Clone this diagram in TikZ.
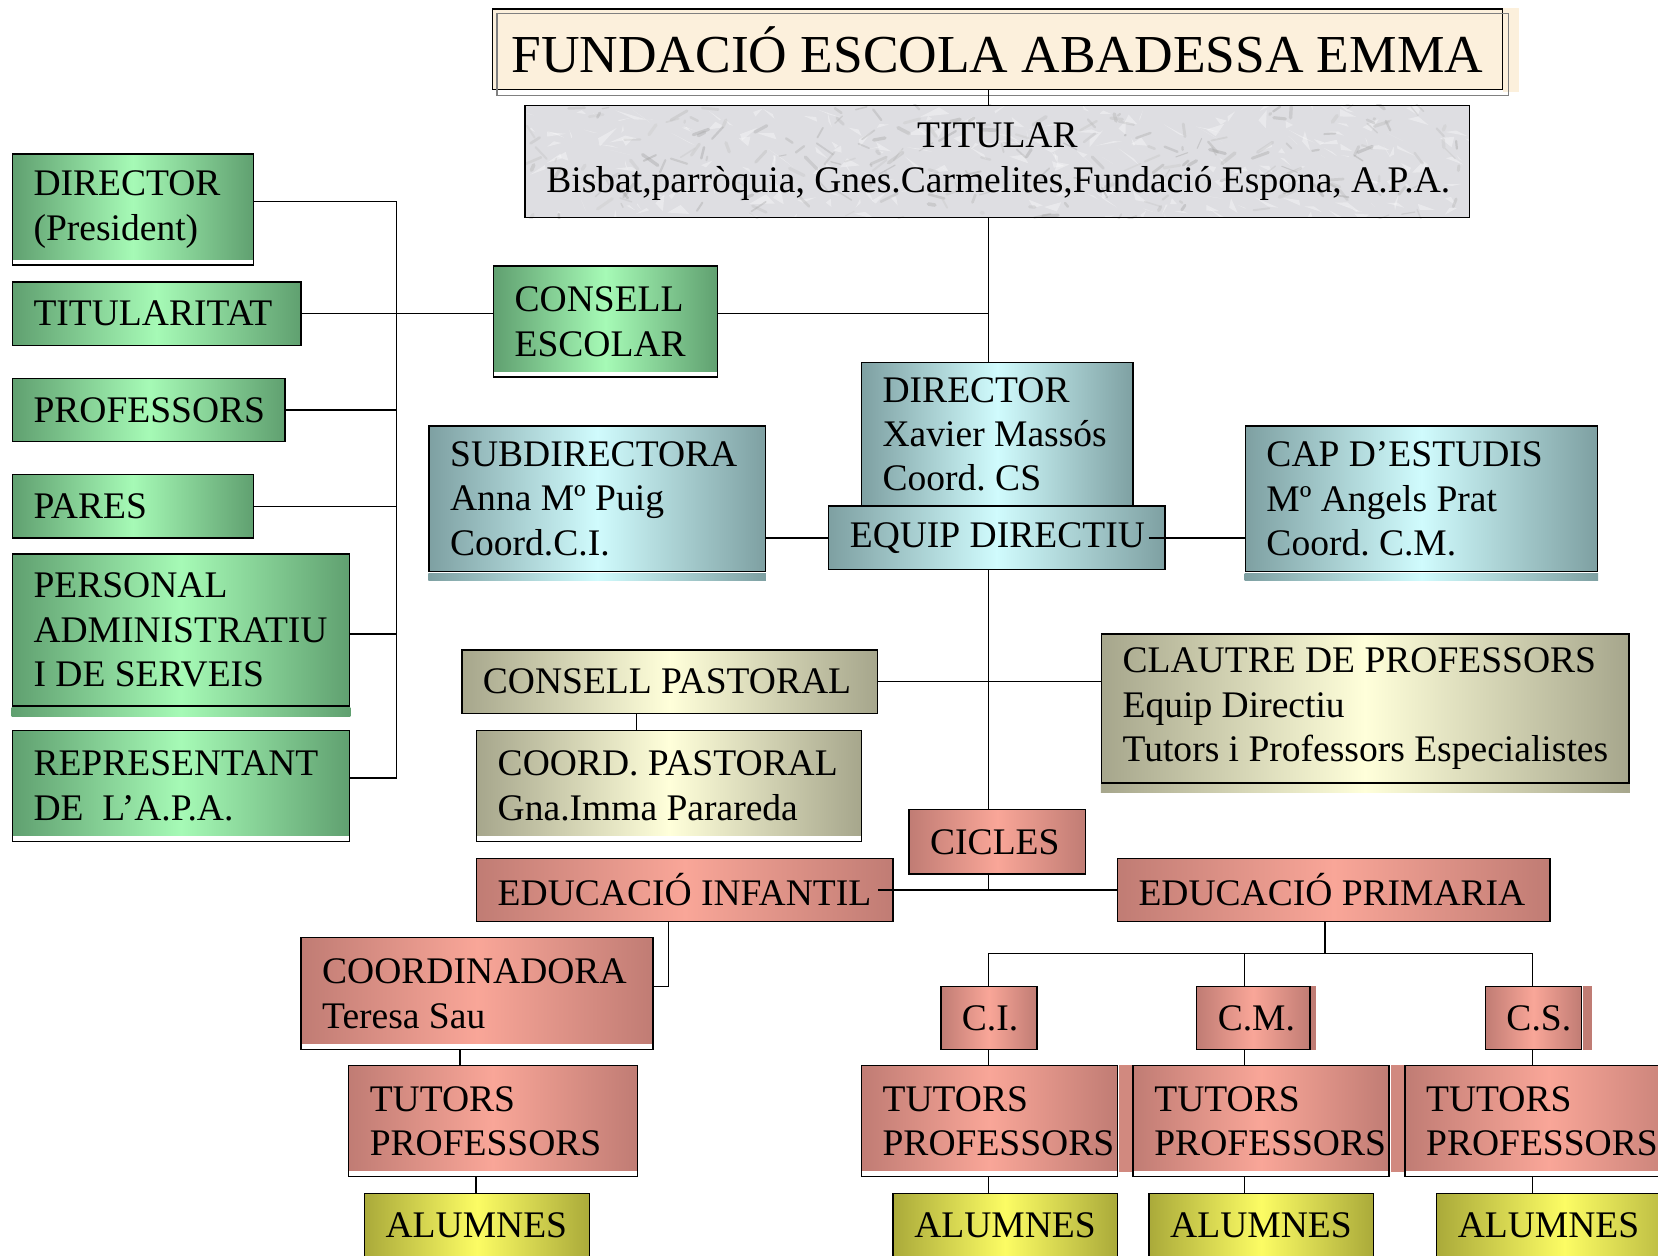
\documentclass[tikz,border=0pt]{standalone}
\usepackage{fontspec}
\setmainfont{Liberation Serif}
\usetikzlibrary{backgrounds}
\frenchspacing
\definecolor{gE}{RGB}{96,160,112}
\definecolor{gM}{RGB}{166,250,182}
\definecolor{bE}{RGB}{126,160,162}
\definecolor{bM}{RGB}{208,251,253}
\definecolor{kE}{RGB}{166,166,140}
\definecolor{kM}{RGB}{255,255,218}
\definecolor{rE}{RGB}{192,124,116}
\definecolor{rM}{RGB}{249,166,152}
\definecolor{yE}{RGB}{170,170,58}
\definecolor{yM}{RGB}{252,252,100}
\definecolor{beige}{RGB}{252,240,220}
\definecolor{marble}{RGB}{222,222,226}
\tikzset{
  box/.style={draw=black, line width=1.4pt, rectangle, anchor=north west,
    inner xsep=20pt, inner ysep=0pt, align=left,
    font={\fontsize{35.5}{42}\selectfont}},
  gsh/.style={left color=gE, right color=gE, middle color=gM},
  bsh/.style={left color=bE, right color=bE, middle color=bM},
  ksh/.style={left color=kE, right color=kE, middle color=kM},
  rsh/.style={left color=rE, right color=rE, middle color=rM},
  ysh/.style={left color=yE, right color=yE, middle color=yM},
  wstrip/.style={path picture={\fill[white] ([yshift=5pt]path picture bounding box.south west) rectangle (path picture bounding box.south east);}},
  conn/.style={line width=1.3pt, black},
}
\newcommand\mkbox[7]{%
  \pgfmathsetmacro\bw{#5-#3}%
  \pgfmathsetmacro\bh{#6-#4}%
  \pgfmathsetmacro\tw{#5-#3-40}%
  \node[box,#1,minimum width=\bw pt,minimum height=\bh pt,text width=\tw pt] (#2) at (#3,#4) {\spaceskip=0.25em\relax\xspaceskip=0.25em\relax #7};}
\begin{document}
\begin{tikzpicture}[x=1pt,y=-1pt]
\useasboundingbox (0,0) rectangle (1568,1187);
\clip (0,0) rectangle (1568,1187);

% title
\node[draw=black, line width=1.4pt, fill=beige, anchor=north west, inner sep=0pt,
  minimum width=955pt, minimum height=76pt, font={\fontsize{50.5}{60}\selectfont}]
  (title) at (465,8) {FUNDACIÓ ESCOLA ABADESSA EMMA};
\draw[gray, line width=1.2pt] ([shift={(5pt,-5pt)}]title.north west) rectangle ([shift={(5pt,-5pt)}]title.south east);

% titular
\mkbox{align=center}{titular}{496}{99}{1389}{205}{TITULAR\\\mbox{Bisbat,parròquia, Gnes.Carmelites,Fundació Espona, A.P.A.}}

% left column
\mkbox{gsh,wstrip}{ldir}{11}{145}{239}{250}{DIRECTOR\\(President)}
\mkbox{gsh}{ltit}{11}{266}{284}{326}{TITULARITAT}
\mkbox{gsh}{lprof}{11}{357}{269}{417}{PROFESSORS}
\mkbox{gsh}{lpares}{11}{448}{239}{508}{PARES}
\mkbox{gsh}{lpers}{11}{523}{330}{667}{PERSONAL\\ADMINISTRATIU\\\mbox{I DE SERVEIS}}
\mkbox{gsh,wstrip}{lrep}{11}{690}{330}{795}{REPRESENTANT\\\mbox{DE\ \ L’A.P.A.}}
\mkbox{gsh,wstrip}{consell}{466}{251}{678}{356}{CONSELL\\ESCOLAR}

% direction
\mkbox{bsh}{dir}{814}{342}{1071}{478}{DIRECTOR\\\mbox{Xavier Massós}\\\mbox{Coord. CS}}
\mkbox{bsh}{equip}{783}{478}{1101}{538}{\mbox{EQUIP DIRECTIU}}
\mkbox{bsh}{sub}{405}{402}{723}{540}{SUBDIRECTORA\\\mbox{Anna Mº Puig}\\Coord.C.I.}
\mkbox{bsh}{cap}{1177}{402}{1510}{540}{\mbox{CAP D’ESTUDIS}\\\mbox{Mº Angels Prat}\\\mbox{Coord. C.M.}}

% pastoral / claustre
\mkbox{ksh}{cpast}{436}{614}{829}{674}{\mbox{CONSELL PASTORAL}}
\mkbox{ksh,wstrip}{coordp}{450}{690}{814}{795}{\mbox{COORD. PASTORAL}\\Gna.Imma Parareda}
\mkbox{ksh}{claustre}{1041}{599}{1540}{740}{\mbox{CLAUTRE DE PROFESSORS}\\\mbox{Equip Directiu}\\\mbox{Tutors i Professors Especialistes}}

% cicles
\mkbox{rsh}{cicles}{859}{765}{1026}{826}{CICLES}
\mkbox{rsh}{einf}{450}{811}{844}{871}{\mbox{EDUCACIÓ INFANTIL}}
\mkbox{rsh}{eprim}{1056}{811}{1465}{871}{\mbox{EDUCACIÓ PRIMARIA}}
\mkbox{rsh,wstrip}{coordi}{284}{886}{617}{992}{COORDINADORA\\\mbox{Teresa Sau}}
\mkbox{rsh,wstrip}{tut0}{329}{1007}{602}{1112}{TUTORS\\PROFESSORS}
\mkbox{rsh}{ci}{889}{932}{980}{992}{C.I.}
\mkbox{rsh}{cm}{1131}{932}{1238}{992}{C.M.}
\mkbox{rsh}{cs}{1404}{932}{1495}{992}{C.S.}
\mkbox{rsh,wstrip}{tut1}{814}{1007}{1056}{1112}{TUTORS\\PROFESSORS}
\mkbox{rsh,wstrip}{tut2}{1071}{1007}{1313}{1112}{TUTORS\\PROFESSORS}
\mkbox{rsh,wstrip}{tut3}{1328}{1007}{1600}{1112}{TUTORS\\PROFESSORS}

% alumnes
\mkbox{ysh}{al0}{344}{1128}{557}{1188}{ALUMNES}
\mkbox{ysh}{al1}{844}{1128}{1056}{1188}{ALUMNES}
\mkbox{ysh}{al2}{1086}{1128}{1298}{1188}{ALUMNES}
\mkbox{ysh}{al3}{1358}{1128}{1600}{1188}{ALUMNES}

% background details
\begin{scope}[on background layer]
  \fill[beige] (title.north east) rectangle ([xshift=15pt,yshift=-2pt]title.south east);
  \fill[marble] (titular.north west) rectangle (titular.south east);
  \begin{scope}
    \clip (titular.north west) rectangle (titular.south east);
    \pgfmathsetseed{11}
    \foreach \i in {1,...,260}{
      \pgfmathsetmacro\xa{496+893*rnd}
      \pgfmathsetmacro\ya{99+106*rnd}
      \pgfmathsetmacro\dx{-18+36*rnd}
      \pgfmathsetmacro\dy{-10+20*rnd}
      \fill[white, opacity=.35] (\xa,\ya) -- ++(\dx,\dy) -- ++(12*rnd,9*rnd) -- cycle;
    }
    \foreach \i in {1,...,220}{
      \pgfmathsetmacro\xa{496+893*rnd}
      \pgfmathsetmacro\ya{99+106*rnd}
      \pgfmathsetmacro\dx{-16+32*rnd}
      \pgfmathsetmacro\dy{-12+24*rnd}
      \pgfmathsetmacro\lw{1+2.5*rnd}
      \pgfmathtruncatemacro\gr{40+35*rnd}
      \draw[gray!\gr!white, line width=\lw pt, opacity=.4, line cap=round] (\xa,\ya) -- ++(\dx,\dy);
    }
  \end{scope}
  \shade[gsh] ([yshift=-0.7pt]lpers.south west) rectangle ([yshift=-9pt]lpers.south east);
  \shade[bsh] ([yshift=-0.7pt]sub.south west) rectangle ([yshift=-8pt]sub.south east);
  \shade[bsh] ([yshift=-0.7pt]cap.south west) rectangle ([yshift=-8pt]cap.south east);
  \shade[ksh] ([yshift=-0.7pt]claustre.south west) rectangle ([yshift=-8pt]claustre.south east);
  \fill[rE] ([xshift=0.7pt]cm.north east) rectangle ([xshift=5pt]cm.south east);
  \fill[rE] ([xshift=0.7pt]cs.north east) rectangle ([xshift=9pt]cs.south east);
  \fill[rE!70!rM] ([xshift=0.7pt]tut1.north east) rectangle ([xshift=14pt,yshift=5pt]tut1.south east);
  \fill[rE!70!rM] ([xshift=0.7pt]tut2.north east) rectangle ([xshift=14pt,yshift=5pt]tut2.south east);
\end{scope}

% connectors
\coordinate (tk) at (935,0);
\coordinate (bus) at (375,0);
\draw[conn] (title.south -| tk) -- (titular.north -| tk);
\draw[conn] (titular.south -| tk) -- (dir.north -| tk);
\draw[conn] (ltit.east) -- (consell.west |- ltit.east);
\draw[conn] (consell.east |- ltit.east) -- (tk |- ltit.east);
\coordinate (a1) at ([yshift=7.5pt]ldir.east);
\coordinate (a5) at ([yshift=-4pt]lpers.east);
\coordinate (a6) at ([yshift=7.5pt]lrep.east);
\draw[conn] (bus |- a1) -- (bus |- a6);
\draw[conn] (a1) -- (bus |- a1);
\draw[conn] (lprof.east) -- (bus |- lprof.east);
\draw[conn] (lpares.east) -- (bus |- lpares.east);
\draw[conn] (a5) -- (bus |- a5);
\draw[conn] (a6) -- (bus |- a6);
\draw[conn] (sub.east |- equip.west) -- (equip.west);
\draw[conn] ([xshift=-16pt]equip.east) -- (cap.west |- equip.east);
\draw[conn] (equip.south -| tk) -- (cicles.north -| tk);
\draw[conn] (cpast.east) -- (claustre.west |- cpast.east);
\coordinate (cpx) at (602,0);
\draw[conn] (cpast.south -| cpx) -- (coordp.north -| cpx);
\draw[conn] (cicles.south -| tk) -- (tk |- einf.east);
\draw[conn] ([xshift=-15pt]einf.east) -- (eprim.west);
\coordinate (eix) at (632,0);
\draw[conn] (einf.south -| eix) |- ([yshift=7pt]coordi.east);
\coordinate (c435) at (435,0);
\coordinate (c450) at (450,0);
\draw[conn] (coordi.south -| c435) -- (tut0.north -| c435);
\draw[conn] (tut0.south -| c450) -- (al0.north -| c450);
\coordinate (ep) at (1253,902);
\coordinate (k1) at (935,0);
\coordinate (k2) at (1177,0);
\coordinate (k3) at (1449,0);
\draw[conn] (eprim.south -| ep) -- (ep);
\draw[conn] (ci.north -| k1) -- (k1 |- ep) -- (k3 |- ep) -- (cs.north -| k3);
\draw[conn] (k2 |- ep) -- (cm.north -| k2);
\draw[conn] (ci.south -| k1) -- (tut1.north -| k1);
\draw[conn] (cm.south -| k2) -- (tut2.north -| k2);
\draw[conn] (cs.south -| k3) -- (tut3.north -| k3);
\draw[conn] (tut1.south -| k1) -- (al1.north -| k1);
\draw[conn] (tut2.south -| k2) -- (al2.north -| k2);
\draw[conn] (tut3.south -| k3) -- (al3.north -| k3);
\end{tikzpicture}
\end{document}
